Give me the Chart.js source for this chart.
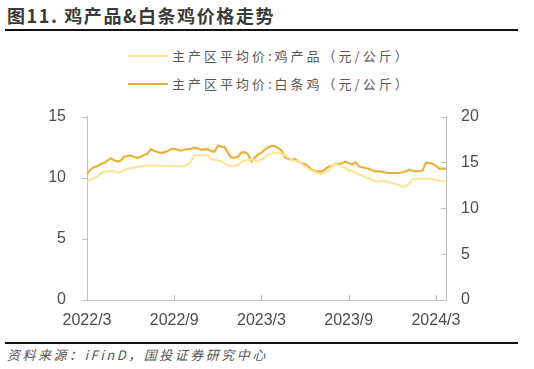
<!DOCTYPE html>
<html><head><meta charset="utf-8">
<script src="https://cdn.jsdelivr.net/npm/chart.js@4.4.1/dist/chart.umd.min.js"></script>
<style>
html,body{margin:0;padding:0;background:#fff;width:534px;height:369px;overflow:hidden;font-family:"Noto Sans CJK SC","Noto Sans",sans-serif;}
#title{position:absolute;left:7px;top:2px;font-size:18px;font-weight:bold;color:#3a3a3a;letter-spacing:1.6px;white-space:nowrap;}
#tline{position:absolute;left:5px;top:29px;width:513px;height:2px;background:#111;}
#bline{position:absolute;left:5px;top:342px;width:513px;height:2px;background:#111;}
#src{position:absolute;left:7px;top:345px;font-size:13px;font-style:italic;color:#555;letter-spacing:2.5px;white-space:nowrap;}
.leg{position:absolute;left:128px;font-size:13px;color:#595959;letter-spacing:3px;white-space:nowrap;}
.leg span{display:inline-block;width:40px;height:2px;vertical-align:middle;margin-right:4px;position:relative;top:-1px;}
#wrap{position:absolute;left:0;top:86px;width:534px;height:254px;}
canvas{display:block;}
</style></head><body>
<div id="title">图11. 鸡产品&amp;白条鸡价格走势</div>
<div id="tline"></div>
<div class="leg" style="top:46px"><span style="background:#FFE38F"></span>主产区平均价:鸡产品（元/公斤）</div>
<div class="leg" style="top:74px"><span style="background:#E9B33B"></span>主产区平均价:白条鸡（元/公斤）</div>
<div id="wrap"><canvas id="c" width="534" height="254"></canvas></div>
<div id="bline"></div>
<div id="src">资料来源：iFinD，国投证券研究中心</div>
<script>
// weekly series, first week of 2022/3 onward
const seriesNames = ["主产区平均价:鸡产品（元/公斤）", "主产区平均价:白条鸡（元/公斤）"];
const chickenProducts = [
9.66,9.84,9.96,10.08,10.33,10.47,10.52,10.53,10.53,10.45,
10.45,10.61,10.72,10.82,10.84,10.88,10.92,10.98,11.00,11.01,
11.01,11.00,10.99,10.98,10.97,10.94,10.93,10.93,10.93,10.93,
11.07,11.31,11.84,11.84,11.83,11.83,11.84,11.56,11.43,11.42,
11.35,11.19,11.02,10.93,10.98,11.02,11.27,11.39,11.45,11.48,
11.43,11.37,11.52,11.64,11.89,11.97,12.02,12.05,11.94,11.84,
11.68,11.43,11.39,11.39,11.11,10.94,10.74,10.57,10.47,10.34,
10.29,10.49,10.57,10.90,11.15,11.02,10.90,10.80,10.57,10.57,
10.45,10.30,10.16,10.04,9.98,9.80,9.70,9.71,9.74,9.71,
9.63,9.55,9.48,9.39,9.24,9.34,9.47,9.88,9.92,9.92,
9.92,9.92,9.92,9.89,9.81,9.75,9.71,9.70];
const whiteStripChicken = [
13.72,14.21,14.48,14.59,14.81,14.94,15.14,15.46,15.25,15.11,
15.19,15.63,15.68,15.76,15.63,15.49,15.63,15.81,15.96,16.45,
16.28,16.14,16.04,16.10,16.25,16.45,16.48,16.39,16.28,16.39,
16.45,16.48,16.61,16.54,16.39,16.43,16.45,16.23,16.17,16.83,
16.72,16.67,16.07,15.52,15.52,15.63,16.07,16.12,15.90,15.11,
15.52,15.85,16.07,16.39,16.67,16.78,16.78,16.56,16.28,15.57,
15.41,15.25,15.38,15.11,14.92,14.81,14.54,14.21,14.07,14.02,
14.02,14.26,14.54,14.59,14.86,14.81,14.92,15.08,14.94,14.75,
15.03,14.57,14.48,14.40,14.32,14.15,14.02,14.02,13.99,13.88,
13.85,13.85,13.85,13.85,13.93,14.04,14.21,14.10,14.02,14.07,
14.10,14.97,14.92,14.86,14.64,14.32,14.32,14.32];
const xTickLabels = ["2022/3","2022/9","2023/3","2023/9","2024/3"];
const xTickIndex = [0,26,52,78,104];
const leftTicks = [0,5,10,15];
const rightTicks = [0,5,10,15,20];

// week-start categories
const categories = [];
{
  const d0 = new Date(Date.UTC(2022,2,4));
  for (let i = 0; i < chickenProducts.length; i++) {
    const d = new Date(d0.getTime() + i*7*86400000);
    categories.push(d.getUTCFullYear()+"/"+(d.getUTCMonth()+1)+"/"+d.getUTCDate());
  }
}

const AX = '#bfbfbf';
const TXT = '#4d4d4d';
const tickFont = {family:'"Liberation Sans", Arial, sans-serif', size:16};
const tickMarks = {
  id:'tickMarks',
  afterDraw(chart){
    const ctx = chart.ctx, x = chart.scales.x, yl = chart.scales.y, yr = chart.scales.y1;
    ctx.save(); ctx.strokeStyle = AX; ctx.lineWidth = 1;
    ctx.beginPath();
    leftTicks.forEach(v=>{const p=Math.round(yl.getPixelForValue(v))+0.5; ctx.moveTo(yl.right-5,p); ctx.lineTo(yl.right,p);});
    rightTicks.forEach(v=>{const p=Math.round(yr.getPixelForValue(v))+0.5; ctx.moveTo(yr.left-5,p); ctx.lineTo(yr.left,p);});
    xTickIndex.forEach(i=>{const p=Math.round(x.getPixelForValue(i))+0.5; ctx.moveTo(p,x.top-5); ctx.lineTo(p,x.top);});
    ctx.stroke(); ctx.restore();
  }
};

new Chart(document.getElementById('c'), {
  type:'line',
  data:{labels:categories, datasets:[
    {label:seriesNames[0], data:chickenProducts, borderColor:'#FFE38F', backgroundColor:'#FFE38F', borderWidth:2, pointRadius:0, tension:0, yAxisID:'y'},
    {label:seriesNames[1], data:whiteStripChicken, borderColor:'#E9B33B', backgroundColor:'#E9B33B', borderWidth:2.2, pointRadius:0, tension:0, yAxisID:'y1'}
  ]},
  options:{
    responsive:false, animation:false,
    layout:{padding:{top:7,left:0,right:0,bottom:0}},
    plugins:{legend:{display:false}, tooltip:{enabled:false}},
    scales:{
      x:{type:'category', offset:false,
        grid:{display:true, drawOnChartArea:false, drawTicks:false},
        border:{display:true, color:AX, width:1},
        ticks:{autoSkip:false, maxRotation:0, minRotation:0, padding:11, color:TXT, font:tickFont,
          callback:function(v,i){const k=xTickIndex.indexOf(i); return k>=0?xTickLabels[k]:null;}},
        afterFit(s){s.height=40;}
      },
      y:{position:'left', min:0, max:15,
        grid:{display:true, drawOnChartArea:false, drawTicks:false},
        border:{display:true, color:AX, width:1},
        ticks:{stepSize:5, padding:21, color:TXT, font:tickFont},
        afterFit(s){s.width=87;}
      },
      y1:{position:'right', min:0, max:20,
        grid:{display:true, drawOnChartArea:false, drawTicks:false},
        border:{display:true, color:AX, width:1},
        ticks:{stepSize:5, padding:15, color:TXT, font:tickFont},
        afterFit(s){s.width=88;}
      }
    }
  },
  plugins:[tickMarks]
});
</script>
</body></html>
